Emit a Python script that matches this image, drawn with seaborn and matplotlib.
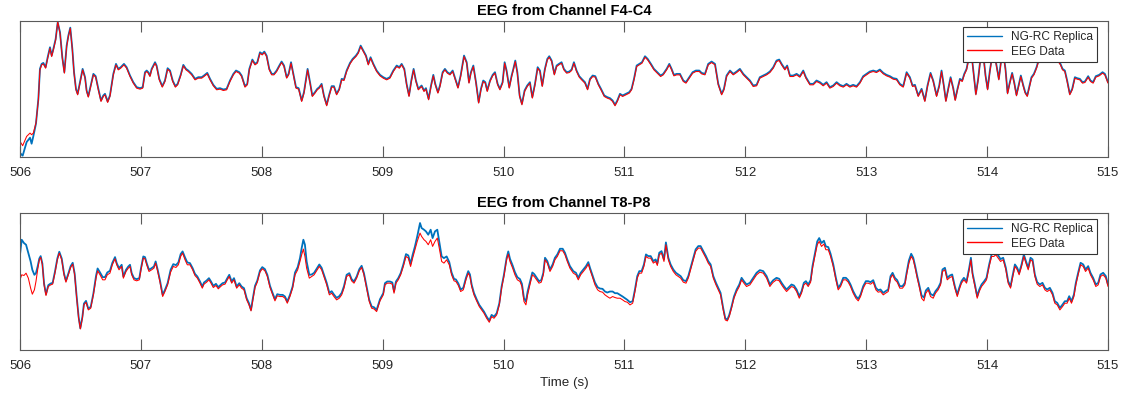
import matplotlib
matplotlib.use("Agg")
import matplotlib.pyplot as plt
import pandas as pd
import seaborn as sns

# ---------------- data (time in s, amplitude in arbitrary units) ----------------
T_F4 = [
    506.000, 506.022, 506.055, 506.083, 506.096, 506.110, 506.132, 506.152, 506.165, 506.179,
    506.193, 506.212, 506.229, 506.248, 506.262, 506.276, 506.295, 506.312, 506.331, 506.350,
    506.367, 506.386, 506.400, 506.416, 506.433, 506.447, 506.463, 506.477, 506.496, 506.518,
    506.538, 506.551, 506.565, 506.585, 506.607, 506.626, 506.648, 506.670, 506.689, 506.703,
    506.725, 506.744, 506.772, 506.794, 506.813, 506.833, 506.860, 506.882, 506.910, 506.937,
    506.965, 506.993, 507.015, 507.034, 507.048, 507.061, 507.075, 507.089, 507.117, 507.130,
    507.152, 507.177, 507.199, 507.221, 507.241, 507.263, 507.285, 507.304, 507.329, 507.351,
    507.373, 507.392, 507.420, 507.448, 507.475, 507.503, 507.522, 507.549, 507.572, 507.599,
    507.627, 507.654, 507.682, 507.709, 507.737, 507.765, 507.787, 507.814, 507.833, 507.861,
    507.880, 507.897, 507.922, 507.944, 507.963, 507.985, 508.004, 508.021, 508.040, 508.062,
    508.082, 508.101, 508.123, 508.145, 508.164, 508.184, 508.206, 508.222, 508.242, 508.261,
    508.283, 508.305, 508.330, 508.349, 508.366, 508.379, 508.399, 508.418, 508.440, 508.459,
    508.476, 508.495, 508.514, 508.537, 508.556, 508.578, 508.597, 508.619, 508.641, 508.661,
    508.680, 508.702, 508.730, 508.752, 508.779, 508.798, 508.818, 508.840, 508.862, 508.881,
    508.900, 508.923, 508.950, 508.978, 509.005, 509.033, 509.060, 509.088, 509.116, 509.138,
    509.157, 509.179, 509.198, 509.218, 509.237, 509.256, 509.275, 509.295, 509.322, 509.342,
    509.358, 509.380, 509.400, 509.419, 509.435, 509.457, 509.474, 509.496, 509.515, 509.535,
    509.557, 509.579, 509.601, 509.623, 509.645, 509.673, 509.695, 509.714, 509.730, 509.750,
    509.772, 509.794, 509.813, 509.832, 509.849, 509.865, 509.888, 509.910, 509.929, 509.951,
    509.970, 509.992, 510.009, 510.025, 510.047, 510.067, 510.081, 510.097, 510.114, 510.133,
    510.152, 510.174, 510.196, 510.218, 510.238, 510.260, 510.282, 510.301, 510.320, 510.342,
    510.362, 510.378, 510.398, 510.420, 510.439, 510.458, 510.480, 510.499, 510.522, 510.544,
    510.563, 510.582, 510.604, 510.626, 510.646, 510.673, 510.695, 510.715, 510.737, 510.759,
    510.784, 510.806, 510.833, 510.858, 510.880, 510.902, 510.922, 510.941, 510.963, 510.985,
    511.012, 511.040, 511.059, 511.079, 511.101, 511.123, 511.145, 511.170, 511.192, 511.219,
    511.244, 511.272, 511.299, 511.321, 511.349, 511.371, 511.390, 511.409, 511.432, 511.459,
    511.487, 511.509, 511.536, 511.564, 511.591, 511.619, 511.638, 511.666, 511.693, 511.721,
    511.749, 511.776, 511.804, 511.823, 511.845, 511.873, 511.900, 511.928, 511.955, 511.983,
    512.038, 512.065, 512.093, 512.120, 512.148, 512.176, 512.203, 512.231, 512.258, 512.280,
    512.300, 512.327, 512.346, 512.369, 512.396, 512.424, 512.451, 512.479, 512.501, 512.534,
    512.562, 512.589, 512.617, 512.644, 512.672, 512.699, 512.727, 512.755, 512.782, 512.810,
    512.837, 512.865, 512.892, 512.920, 512.948, 512.975, 513.003, 513.030, 513.058, 513.085,
    513.113, 513.141, 513.168, 513.196, 513.223, 513.251, 513.278, 513.306, 513.334, 513.361,
    513.383, 513.403, 513.430, 513.458, 513.485, 513.507, 513.532, 513.554, 513.582, 513.604,
    513.623, 513.642, 513.659, 513.678, 513.698, 513.720, 513.736, 513.755, 513.775, 513.794,
    513.811, 513.830, 513.852, 513.871, 513.891, 513.907, 513.926, 513.946, 513.968, 513.987,
    514.004, 514.023, 514.042, 514.059, 514.078, 514.097, 514.114, 514.133, 514.152, 514.169,
    514.188, 514.207, 514.224, 514.243, 514.263, 514.279, 514.298, 514.315, 514.332, 514.348,
    514.367, 514.387, 514.409, 514.425, 514.445, 514.478, 514.519, 514.561, 514.588, 514.607,
    514.624, 514.643, 514.662, 514.684, 514.704, 514.726, 514.745, 514.767, 514.789, 514.809,
    514.836, 514.855, 514.877, 514.899, 514.927, 514.955, 514.974, 515.000,
]
EEG_F4 = [
    47, 34, 62, 72, 67, 72, 102, 172, 262, 277,
    280, 267, 297, 327, 302, 322, 352, 407, 372, 297,
    252, 332, 362, 387, 322, 252, 202, 187, 222, 262,
    237, 197, 180, 212, 247, 240, 202, 167, 182, 187,
    164, 182, 247, 277, 262, 267, 277, 267, 242, 222,
    207, 204, 207, 252, 257, 252, 242, 262, 282, 272,
    232, 210, 227, 264, 257, 227, 210, 217, 244, 274,
    262, 257, 247, 232, 237, 237, 242, 250, 232, 214,
    202, 204, 200, 202, 227, 247, 257, 252, 242, 210,
    217, 262, 290, 277, 282, 312, 307, 314, 302, 262,
    247, 247, 257, 272, 284, 272, 237, 247, 282, 247,
    207, 204, 167, 192, 232, 262, 222, 182, 192, 202,
    207, 217, 182, 154, 182, 210, 210, 187, 202, 232,
    230, 257, 280, 292, 302, 312, 332, 317, 302, 277,
    297, 277, 257, 244, 237, 232, 237, 257, 272, 267,
    277, 262, 217, 182, 227, 262, 227, 202, 212, 197,
    204, 172, 212, 244, 217, 192, 212, 252, 262, 252,
    247, 257, 232, 207, 242, 302, 282, 222, 252, 272,
    222, 162, 202, 227, 222, 197, 227, 244, 252, 217,
    202, 222, 282, 257, 207, 242, 262, 287, 252, 182,
    157, 197, 212, 222, 177, 217, 267, 257, 212, 262,
    292, 300, 287, 247, 272, 277, 282, 262, 252, 254,
    260, 282, 257, 240, 232, 222, 202, 232, 242, 240,
    217, 202, 182, 177, 174, 167, 154, 167, 187, 182,
    187, 192, 202, 232, 272, 277, 282, 300, 292, 277,
    262, 252, 242, 247, 262, 277, 262, 244, 247, 247,
    227, 222, 237, 252, 257, 257, 250, 247, 277, 284,
    277, 217, 187, 202, 242, 257, 247, 254, 262, 247,
    227, 212, 214, 237, 242, 247, 254, 267, 287, 290,
    277, 262, 272, 242, 242, 247, 240, 257, 237, 217,
    217, 227, 222, 214, 222, 207, 212, 222, 214, 210,
    217, 210, 214, 210, 222, 240, 247, 254, 257, 254,
    260, 250, 244, 240, 234, 232, 217, 210, 252, 237,
    212, 214, 182, 202, 167, 212, 250, 227, 182, 212,
    257, 212, 167, 202, 237, 204, 170, 202, 232, 227,
    247, 262, 302, 307, 242, 187, 232, 297, 307, 242,
    202, 257, 302, 312, 272, 232, 282, 312, 262, 190,
    222, 250, 222, 184, 217, 242, 214, 192, 182, 207,
    237, 247, 267, 287, 307, 322, 312, 297, 287, 277,
    262, 257, 227, 187, 202, 237, 234, 232, 222, 224,
    240, 227, 222, 240, 244, 252, 247, 222,
]
NGRC_F4 = [
    12, 4, 45, 58, 40, 62, 100, 175, 265, 280,
    283, 270, 300, 330, 305, 325, 355, 405, 375, 300,
    255, 335, 365, 389, 325, 255, 205, 190, 225, 265,
    240, 200, 183, 215, 250, 243, 205, 170, 185, 190,
    167, 185, 250, 280, 265, 270, 280, 270, 245, 225,
    210, 207, 210, 255, 260, 255, 245, 265, 285, 275,
    235, 213, 230, 267, 260, 230, 213, 220, 247, 277,
    265, 260, 250, 235, 240, 240, 245, 253, 235, 217,
    205, 207, 203, 205, 230, 250, 260, 255, 245, 213,
    220, 265, 293, 280, 285, 315, 310, 317, 305, 265,
    250, 250, 260, 275, 287, 275, 240, 250, 285, 250,
    210, 207, 170, 195, 235, 265, 225, 185, 195, 205,
    210, 220, 185, 157, 185, 213, 213, 190, 205, 235,
    233, 260, 283, 295, 305, 315, 335, 320, 305, 280,
    300, 280, 260, 247, 240, 235, 240, 260, 275, 270,
    280, 265, 220, 185, 230, 265, 230, 205, 215, 200,
    207, 175, 215, 247, 220, 195, 215, 255, 265, 255,
    250, 260, 235, 210, 245, 305, 285, 225, 255, 275,
    225, 165, 205, 230, 225, 200, 230, 247, 255, 220,
    205, 225, 285, 260, 210, 245, 265, 290, 255, 185,
    160, 200, 215, 225, 180, 220, 270, 260, 215, 265,
    295, 303, 290, 250, 275, 280, 285, 265, 255, 257,
    263, 285, 260, 243, 235, 225, 205, 235, 245, 243,
    220, 205, 185, 180, 177, 170, 157, 170, 190, 185,
    190, 195, 205, 235, 275, 280, 285, 303, 295, 280,
    265, 255, 245, 250, 265, 280, 265, 247, 250, 250,
    230, 225, 240, 255, 260, 260, 253, 250, 280, 287,
    280, 220, 190, 205, 245, 260, 250, 257, 265, 250,
    230, 215, 217, 240, 245, 250, 257, 270, 290, 293,
    280, 265, 275, 245, 245, 250, 243, 260, 240, 220,
    220, 230, 225, 217, 225, 210, 215, 225, 217, 213,
    220, 213, 217, 213, 225, 243, 250, 257, 260, 257,
    263, 253, 247, 243, 237, 235, 220, 213, 255, 240,
    215, 217, 185, 205, 170, 215, 253, 230, 185, 215,
    260, 215, 170, 205, 240, 207, 173, 205, 235, 230,
    250, 265, 305, 310, 245, 190, 235, 300, 310, 245,
    205, 260, 305, 315, 275, 235, 285, 315, 265, 193,
    225, 253, 225, 187, 220, 245, 217, 195, 185, 210,
    240, 250, 270, 290, 310, 325, 315, 300, 290, 280,
    265, 260, 230, 190, 205, 240, 237, 235, 225, 227,
    243, 230, 225, 243, 247, 255, 250, 225,
]

T_T8 = [
    506.000, 506.014, 506.033, 506.050, 506.069, 506.088, 506.102, 506.119, 506.132, 506.146,
    506.160, 506.171, 506.185, 506.199, 506.215, 506.234, 506.254, 506.270, 506.289, 506.309,
    506.325, 506.345, 506.364, 506.380, 506.400, 506.419, 506.436, 506.452, 506.469, 506.485,
    506.499, 506.516, 506.529, 506.546, 506.565, 506.585, 506.607, 506.629, 506.642, 506.662,
    506.684, 506.703, 506.722, 506.744, 506.764, 506.786, 506.800, 506.819, 506.841, 506.855,
    506.877, 506.896, 506.910, 506.924, 506.943, 506.965, 506.987, 507.001, 507.020, 507.034,
    507.048, 507.067, 507.089, 507.108, 507.122, 507.139, 507.158, 507.180, 507.199, 507.221,
    507.246, 507.268, 507.290, 507.310, 507.329, 507.345, 507.365, 507.384, 507.406, 507.428,
    507.447, 507.467, 507.489, 507.508, 507.522, 507.544, 507.563, 507.580, 507.599, 507.621,
    507.640, 507.660, 507.676, 507.696, 507.715, 507.731, 507.751, 507.770, 507.792, 507.814,
    507.833, 507.853, 507.875, 507.894, 507.911, 507.924, 507.944, 507.963, 507.985, 508.004,
    508.026, 508.046, 508.068, 508.090, 508.109, 508.128, 508.150, 508.173, 508.192, 508.211,
    508.233, 508.255, 508.275, 508.297, 508.316, 508.330, 508.344, 508.357, 508.371, 508.393,
    508.413, 508.433, 508.454, 508.476, 508.495, 508.514, 508.537, 508.559, 508.578, 508.597,
    508.619, 508.641, 508.661, 508.680, 508.702, 508.724, 508.743, 508.763, 508.785, 508.807,
    508.826, 508.845, 508.867, 508.889, 508.909, 508.928, 508.950, 508.978, 509.005, 509.019,
    509.038, 509.060, 509.080, 509.094, 509.110, 509.129, 509.149, 509.171, 509.193, 509.212,
    509.231, 509.248, 509.267, 509.286, 509.309, 509.322, 509.342, 509.358, 509.377, 509.397,
    509.413, 509.433, 509.452, 509.468, 509.488, 509.507, 509.529, 509.551, 509.570, 509.590,
    509.606, 509.626, 509.645, 509.667, 509.689, 509.708, 509.722, 509.736, 509.755, 509.777,
    509.799, 509.819, 509.838, 509.860, 509.882, 509.901, 509.921, 509.943, 509.965, 509.984,
    510.003, 510.025, 510.039, 510.053, 510.075, 510.094, 510.114, 510.136, 510.152, 510.169,
    510.185, 510.199, 510.218, 510.238, 510.254, 510.274, 510.293, 510.312, 510.329, 510.343,
    510.362, 510.384, 510.406, 510.425, 510.445, 510.467, 510.489, 510.508, 510.527, 510.549,
    510.577, 510.599, 510.618, 510.638, 510.660, 510.682, 510.701, 510.715, 510.734, 510.756,
    510.778, 510.797, 510.819, 510.839, 510.858, 510.880, 510.902, 510.922, 510.941, 510.963,
    510.985, 511.004, 511.024, 511.046, 511.068, 511.087, 511.106, 511.123, 511.142, 511.161,
    511.178, 511.197, 511.217, 511.239, 511.258, 511.272, 511.288, 511.307, 511.327, 511.343,
    511.363, 511.382, 511.404, 511.426, 511.445, 511.465, 511.487, 511.509, 511.528, 511.547,
    511.569, 511.589, 511.611, 511.630, 511.652, 511.674, 511.693, 511.713, 511.735, 511.757,
    511.776, 511.795, 511.817, 511.834, 511.851, 511.867, 511.886, 511.906, 511.928, 511.950,
    511.969, 511.988, 512.010, 512.038, 512.065, 512.093, 512.120, 512.148, 512.176, 512.189,
    512.203, 512.217, 512.231, 512.258, 512.280, 512.300, 512.319, 512.341, 512.363, 512.382,
    512.402, 512.424, 512.446, 512.465, 512.484, 512.501, 512.520, 512.540, 512.556, 512.575,
    512.595, 512.611, 512.630, 512.650, 512.666, 512.686, 512.705, 512.727, 512.749, 512.768,
    512.788, 512.810, 512.832, 512.851, 512.870, 512.892, 512.914, 512.934, 512.953, 512.975,
    512.997, 513.016, 513.036, 513.058, 513.080, 513.099, 513.118, 513.141, 513.160, 513.182,
    513.201, 513.218, 513.237, 513.256, 513.278, 513.300, 513.320, 513.334, 513.353, 513.372,
    513.389, 513.405, 513.422, 513.438, 513.458, 513.477, 513.493, 513.513, 513.532, 513.554,
    513.573, 513.595, 513.615, 513.631, 513.651, 513.670, 513.692, 513.711, 513.733, 513.753,
    513.769, 513.788, 513.808, 513.830, 513.852, 513.866, 513.879, 513.899, 513.918, 513.935,
    513.954, 513.976, 513.995, 514.017, 514.037, 514.056, 514.072, 514.092, 514.111, 514.133,
    514.155, 514.174, 514.194, 514.210, 514.230, 514.249, 514.265, 514.285, 514.304, 514.321,
    514.340, 514.359, 514.376, 514.395, 514.414, 514.436, 514.458, 514.478, 514.497, 514.519,
    514.541, 514.560, 514.580, 514.602, 514.624, 514.643, 514.662, 514.679, 514.698, 514.718,
    514.734, 514.753, 514.773, 514.795, 514.814, 514.836, 514.855, 514.877, 514.899, 514.919,
    514.938, 514.960, 514.982, 515.000,
]
EEG_T8 = [
    210, 225, 223, 230, 215, 185, 167, 180, 205, 240,
    270, 277, 255, 195, 163, 190, 195, 197, 230, 270,
    290, 270, 225, 203, 225, 247, 257, 225, 155, 95,
    63, 95, 135, 143, 120, 125, 165, 215, 237, 225,
    210, 210, 225, 230, 255, 273, 255, 240, 250, 215,
    235, 245, 250, 225, 210, 207, 210, 240, 275, 273,
    255, 235, 240, 245, 260, 235, 203, 160, 175, 195,
    233, 250, 247, 255, 280, 290, 270, 255, 255, 240,
    223, 215, 200, 185, 197, 203, 210, 200, 187, 193,
    183, 190, 195, 197, 210, 220, 200, 210, 185, 195,
    185, 180, 150, 135, 117, 145, 187, 203, 233, 243,
    237, 220, 187, 165, 147, 162, 160, 160, 155, 140,
    160, 185, 225, 240, 265, 285, 302, 280, 245, 215,
    220, 225, 237, 250, 240, 220, 195, 165, 170, 160,
    150, 155, 165, 185, 220, 225, 207, 200, 215, 237,
    247, 225, 185, 145, 125, 123, 115, 147, 165, 195,
    200, 200, 197, 170, 200, 210, 225, 250, 280, 275,
    250, 275, 300, 325, 350, 340, 330, 325, 315, 330,
    310, 325, 335, 305, 265, 260, 270, 255, 225, 207,
    205, 193, 175, 180, 210, 230, 220, 190, 165, 147,
    130, 120, 110, 95, 83, 100, 95, 105, 135, 185,
    220, 270, 287, 265, 245, 225, 210, 205, 190, 145,
    135, 165, 195, 225, 220, 210, 200, 203, 225, 270,
    260, 235, 250, 270, 280, 297, 297, 285, 265, 245,
    230, 225, 210, 225, 235, 245, 257, 240, 220, 195,
    180, 175, 173, 165, 160, 155, 160, 157, 155, 155,
    150, 145, 143, 135, 140, 175, 215, 230, 230, 250,
    280, 275, 275, 260, 265, 253, 285, 290, 265, 315,
    270, 250, 235, 225, 220, 215, 203, 200, 215, 240,
    270, 295, 305, 305, 290, 275, 260, 250, 215, 195,
    180, 165, 120, 90, 87, 100, 125, 155, 175, 190,
    210, 200, 190, 195, 210, 225, 233, 230, 215, 203,
    190, 197, 203, 210, 207, 195, 185, 175, 183, 190,
    187, 175, 155, 170, 195, 200, 190, 203, 245, 280,
    315, 325, 310, 317, 300, 300, 280, 250, 210, 180,
    190, 210, 210, 203, 190, 170, 155, 147, 160, 185,
    200, 200, 197, 203, 180, 173, 175, 165, 170, 175,
    215, 225, 210, 203, 185, 185, 195, 225, 260, 280,
    270, 245, 215, 190, 155, 147, 170, 180, 160, 155,
    170, 180, 195, 235, 240, 210, 217, 220, 185, 160,
    180, 200, 210, 200, 240, 270, 225, 190, 155, 175,
    190, 200, 210, 250, 280, 280, 285, 275, 265, 270,
    240, 200, 185, 215, 250, 240, 225, 250, 280, 260,
    240, 270, 265, 220, 197, 190, 195, 180, 175, 180,
    165, 140, 135, 120, 130, 140, 140, 155, 140, 160,
    195, 225, 255, 250, 235, 245, 225, 210, 190, 195,
    220, 225, 215, 190,
]
NGRC_T8 = [
    285, 330, 320, 315, 290, 265, 240, 225, 230, 250,
    274, 281, 259, 199, 167, 194, 199, 201, 234, 274,
    294, 274, 229, 207, 229, 251, 261, 229, 159, 99,
    65, 99, 139, 147, 124, 129, 169, 222, 244, 232,
    218, 218, 232, 237, 261, 278, 260, 245, 255, 220,
    240, 250, 255, 230, 215, 212, 215, 245, 280, 278,
    260, 240, 245, 250, 265, 240, 208, 165, 180, 200,
    240, 257, 254, 262, 287, 295, 277, 262, 260, 245,
    228, 220, 205, 190, 202, 208, 215, 205, 192, 198,
    188, 195, 200, 202, 215, 225, 205, 215, 190, 200,
    190, 185, 155, 140, 120, 150, 192, 208, 238, 248,
    242, 225, 192, 170, 152, 167, 165, 165, 160, 145,
    165, 190, 232, 248, 275, 305, 330, 315, 265, 225,
    226, 231, 243, 256, 246, 226, 201, 171, 176, 166,
    156, 161, 171, 191, 225, 230, 212, 205, 220, 242,
    252, 230, 190, 150, 130, 128, 120, 152, 170, 200,
    205, 205, 202, 175, 205, 215, 230, 256, 287, 283,
    258, 285, 310, 340, 380, 365, 360, 355, 345, 360,
    335, 355, 360, 325, 280, 275, 280, 263, 232, 213,
    211, 199, 181, 186, 216, 236, 226, 196, 171, 152,
    135, 125, 115, 100, 88, 105, 100, 110, 140, 190,
    225, 275, 295, 273, 253, 233, 218, 212, 198, 155,
    145, 175, 203, 232, 227, 216, 206, 209, 231, 276,
    266, 241, 256, 276, 286, 303, 303, 291, 271, 251,
    236, 231, 216, 231, 241, 251, 263, 246, 226, 202,
    188, 184, 183, 175, 172, 175, 175, 170, 170, 165,
    160, 155, 150, 143, 146, 181, 221, 236, 236, 256,
    286, 281, 281, 266, 271, 259, 291, 296, 271, 322,
    276, 256, 241, 231, 226, 221, 209, 206, 221, 246,
    276, 301, 311, 311, 296, 281, 266, 256, 221, 201,
    186, 171, 125, 95, 91, 105, 130, 160, 181, 196,
    216, 206, 196, 201, 216, 231, 239, 236, 221, 209,
    196, 203, 209, 216, 213, 201, 191, 181, 189, 196,
    193, 181, 161, 176, 201, 206, 196, 209, 252, 288,
    325, 335, 320, 327, 310, 308, 288, 257, 216, 186,
    196, 216, 216, 209, 196, 176, 161, 153, 166, 191,
    206, 206, 203, 209, 186, 179, 181, 171, 176, 181,
    221, 231, 216, 209, 191, 191, 201, 231, 268, 288,
    276, 251, 221, 196, 163, 157, 178, 186, 168, 163,
    176, 186, 201, 241, 246, 216, 223, 226, 191, 166,
    186, 206, 216, 206, 246, 276, 231, 196, 161, 181,
    196, 206, 216, 256, 286, 290, 293, 283, 272, 276,
    246, 206, 191, 221, 256, 246, 231, 256, 286, 266,
    246, 276, 271, 226, 203, 196, 201, 186, 181, 186,
    171, 146, 141, 126, 136, 146, 146, 161, 146, 166,
    201, 231, 261, 256, 241, 251, 231, 216, 196, 201,
    226, 231, 221, 196,
]

TIME_TICKS = [506, 507, 508, 509, 510, 511, 512, 513, 514, 515]
TITLES = ["EEG from Channel F4-C4", "EEG from Channel T8-P8"]
SERIES = ["NG-RC Replica", "EEG Data"]
Y_RANGES = [(0, 409), (0, 410)]

# ---------------- style ----------------
sns.set_style("white")
plt.rcParams["font.family"] = ["Liberation Sans", "DejaVu Sans"]

BLUE = "#0072BD"
RED = "#FF0000"
FRAME = "#5a5a5a"

W, H = 1122, 393
fig = plt.figure(figsize=(W / 100, H / 100), dpi=100)
ax_top = fig.add_axes([20 / W, 1 - 157 / H, 1088 / W, 136 / H])
ax_bot = fig.add_axes([20 / W, 1 - 350 / H, 1088 / W, 137 / H])

panels = [
    (ax_top, T_F4, NGRC_F4, EEG_F4, TITLES[0], Y_RANGES[0]),
    (ax_bot, T_T8, NGRC_T8, EEG_T8, TITLES[1], Y_RANGES[1]),
]

for ax, t, ngrc, eeg, title, yr in panels:
    df_ngrc = pd.DataFrame({"time": t, "value": ngrc})
    df_eeg = pd.DataFrame({"time": t, "value": eeg})
    sns.lineplot(data=df_ngrc, x="time", y="value", ax=ax, color=BLUE,
                 linewidth=1.3, label=SERIES[0], sort=False, estimator=None)
    sns.lineplot(data=df_eeg, x="time", y="value", ax=ax, color=RED,
                 linewidth=0.75, label=SERIES[1], sort=False, estimator=None)
    ax.set_xlim(TIME_TICKS[0], TIME_TICKS[-1])
    ax.set_ylim(*yr)
    ax.set_xticks(TIME_TICKS)
    ax.set_xticklabels([str(v) for v in TIME_TICKS])
    ax.set_yticks([])
    ax.set_xlabel("")
    ax.set_ylabel("")
    ax.tick_params(axis="x", direction="in", length=8, width=0.8, color=FRAME,
                   top=True, bottom=True, labelsize=9.5, pad=7.5, labelcolor="#262626")
    for sp in ax.spines.values():
        sp.set_color(FRAME)
        sp.set_linewidth(0.8)
        sp.set_visible(True)
    ax.set_title(title, fontsize=10.5, fontweight="bold", pad=4.5, color="black")
    leg = ax.legend(loc="upper right", bbox_to_anchor=(1 - 11 / 1088, 1 - 6 / 136),
                    borderaxespad=0, fontsize=8.6, frameon=True, fancybox=False,
                    edgecolor="#333333", framealpha=1, handlelength=2.9,
                    handletextpad=0.75, labelspacing=0.2, borderpad=0.35)
    leg.get_frame().set_linewidth(0.8)
    for line in leg.get_lines():
        line.set_linewidth(1.0)

ax_bot.set_xlabel("Time (s)", fontsize=9.6, labelpad=3, color="#262626")

fig.savefig("out.png", dpi=100)
